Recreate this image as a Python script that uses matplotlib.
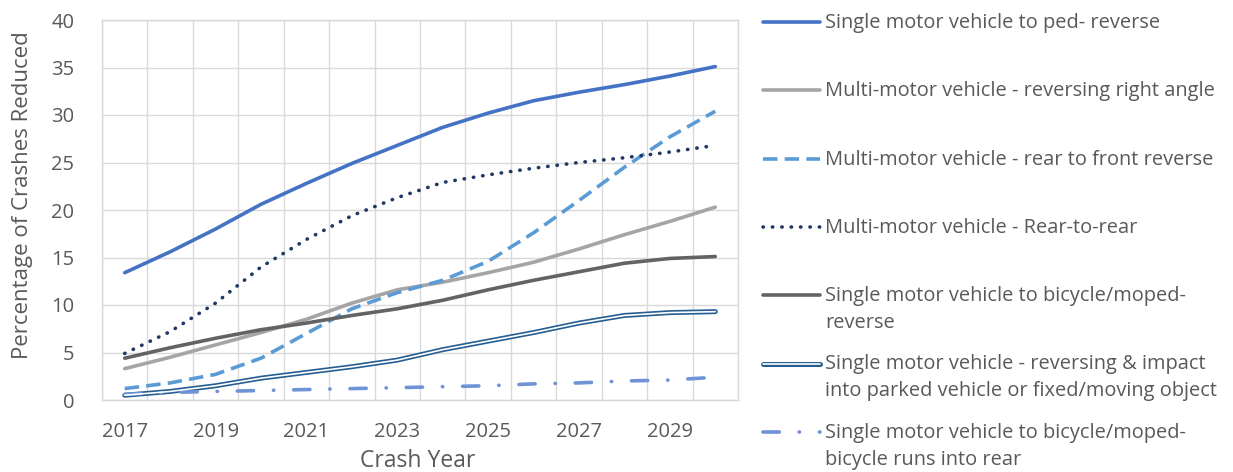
import matplotlib
matplotlib.use("Agg")
import matplotlib.pyplot as plt
from matplotlib.lines import Line2D

years = list(range(2017, 2031))

ped_reverse = [13.4, 15.6, 18.0, 20.6, 22.8, 24.9, 26.8, 28.7, 30.2, 31.5, 32.4, 33.2, 34.1, 35.1]
right_angle = [3.3, 4.5, 5.8, 7.1, 8.5, 10.2, 11.6, 12.4, 13.4, 14.5, 15.9, 17.4, 18.8, 20.3]
rear_to_front = [1.2, 1.8, 2.7, 4.4, 7.0, 9.6, 11.3, 12.6, 14.6, 17.6, 21.0, 24.5, 27.7, 30.4]
rear_to_rear = [4.9, 7.2, 10.2, 14.0, 16.9, 19.4, 21.3, 22.9, 23.7, 24.4, 25.0, 25.5, 26.1, 26.8]
bicycle_reverse = [4.4, 5.5, 6.5, 7.4, 8.1, 8.9, 9.6, 10.5, 11.6, 12.6, 13.5, 14.4, 14.9, 15.1]
parked_object = [0.5, 0.9, 1.5, 2.3, 2.9, 3.5, 4.2, 5.3, 6.2, 7.1, 8.1, 8.9, 9.2, 9.3]
bicycle_rear = [0.6, 0.8, 0.9, 1.0, 1.1, 1.2, 1.3, 1.4, 1.5, 1.7, 1.8, 2.0, 2.1, 2.4]

labels = [
    "Single motor vehicle to ped- reverse",
    "Multi-motor vehicle - reversing right angle",
    "Multi-motor vehicle - rear to front reverse",
    "Multi-motor vehicle - Rear-to-rear",
    "Single motor vehicle to bicycle/moped-\nreverse",
    "Single motor vehicle - reversing & impact\ninto parked vehicle or fixed/moving object",
    "Single motor vehicle to bicycle/moped-\nbicycle runs into rear",
]
x_tick_years = [2017, 2019, 2021, 2023, 2025, 2027, 2029]

TXT = "#595959"
GRID = "#D9D9D9"
FONT = "Open Sans"
FS_TICK = 14.5
FS_LEG = 14.4

plt.rcParams["font.family"] = [FONT, "DejaVu Sans"]

W, H = 1233, 472
fig = plt.figure(figsize=(W / 100, H / 100), dpi=100)
ax = fig.add_axes([102 / W, 72 / H, 636 / W, 380 / H])

LW = 2.6
DBL_OUT, DBL_IN = 3.6, 1.2
styles = [
    dict(color="#4472C4", lw=LW, ls="-", solid_capstyle="round"),
    dict(color="#A5A5A5", lw=LW, ls="-", solid_capstyle="round"),
    dict(color="#5B9BD5", lw=LW, ls=(0, (4.0, 2.0))),
    dict(color="#203864", lw=LW, ls=(0, (0.1, 2.5)), dash_capstyle="round"),
    dict(color="#636363", lw=LW, ls="-", solid_capstyle="round"),
    None,
    dict(color="#6F93D6", lw=LW, ls=(0, (4.5, 5.5, 0.1, 5.5)), dash_capstyle="round"),
]
series = [ped_reverse, right_angle, rear_to_front, rear_to_rear,
          bicycle_reverse, parked_object, bicycle_rear]

for vals, st in zip(series, styles):
    if st is None:
        ax.plot(years, vals, color="#255E91", lw=DBL_OUT, solid_capstyle="round", zorder=3)
        ax.plot(years, vals, color="white", lw=DBL_IN, solid_capstyle="round", zorder=3.1)
    else:
        ax.plot(years, vals, zorder=3, **st)

ax.set_xlim(2016.5, 2030.5)
ax.set_ylim(0, 40)
ax.set_xticks([y + 0.5 for y in range(2016, 2031)], minor=True)
ax.set_xticks(x_tick_years)
ax.set_xticklabels([str(y) for y in x_tick_years])
ax.set_yticks(range(0, 41, 5))
ax.grid(True, which="minor", axis="x", color=GRID, lw=1.0)
ax.grid(True, which="major", axis="y", color=GRID, lw=1.0)
ax.tick_params(which="both", length=0, labelsize=FS_TICK, colors=TXT)
ax.tick_params(axis="x", pad=16)
ax.tick_params(axis="y", pad=20)
for s in ax.spines.values():
    s.set_color(GRID)
    s.set_linewidth(1.0)

ax.set_xlabel("Crash Year", fontsize=16.5, color=TXT, va="center")
ax.xaxis.set_label_coords((418 - 102) / 636, -(461 - 400) / 380)
ax.set_ylabel("Percentage of Crashes Reduced", fontsize=16, color=TXT, va="center")
ax.yaxis.set_label_coords(-(102 - 23) / 636, (400 - 195) / 380)

# legend drawn to the right of the plot, one entry per 68 px
x0, x1, xt = 763, 820, 825
for i, (lab, st) in enumerate(zip(labels, styles)):
    yp = 22 + i * 68.3
    yf = 1 - yp / H
    if st is None:
        fig.add_artist(Line2D([x0 / W, x1 / W], [yf, yf], color="#255E91", lw=DBL_OUT,
                              solid_capstyle="round", transform=fig.transFigure))
        fig.add_artist(Line2D([x0 / W, x1 / W], [yf, yf], color="white", lw=DBL_IN,
                              solid_capstyle="round", transform=fig.transFigure))
    else:
        fig.add_artist(Line2D([x0 / W, x1 / W], [yf, yf], transform=fig.transFigure, **st))
    fig.text(xt / W, yf + 9 / H, lab, ha="left", va="top", fontsize=FS_LEG, color=TXT,
             linespacing=1.45)

fig.savefig("out.png", dpi=100)
